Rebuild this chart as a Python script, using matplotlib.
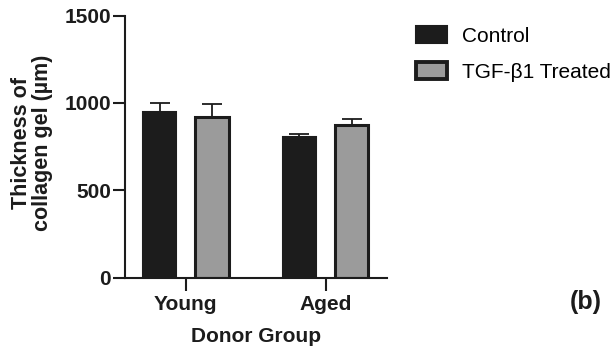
import matplotlib.pyplot as plt
import numpy as np

plt.rcParams['font.family'] = ['Liberation Sans', 'DejaVu Sans']

groups = ['Young', 'Aged']
series = ['Control', 'TGF-\u03b21 Treated']
control = [950, 805]
treated = [922, 872]
control_err = [52, 17]
treated_err = [70, 38]

fig = plt.figure(figsize=(6.13, 3.46), dpi=100)
ax = fig.add_axes([0.204, 0.197, 0.427, 0.758])

x = np.arange(len(groups))
w = 0.24
off = 0.187
lw = 1.5
ink = '#1c1c1c'

ax.bar(x - off, control, w, color=ink, edgecolor=ink, linewidth=lw,
       label=series[0], zorder=2)
ax.bar(x + off, treated, w, color='#9b9b9b', edgecolor=ink, linewidth=2.2,
       label=series[1], zorder=2)
# one-sided (upper) error bars
ax.errorbar(x - off, control, yerr=[np.zeros(2), control_err], fmt='none',
            ecolor=ink, elinewidth=1.3, capsize=7, capthick=1.3, zorder=1)
ax.errorbar(x + off, treated, yerr=[np.zeros(2), treated_err], fmt='none',
            ecolor=ink, elinewidth=1.3, capsize=7, capthick=1.3, zorder=1)

ax.set_xlim(-0.434, 1.438)
ax.set_ylim(0, 1500)
ax.set_yticks([0, 500, 1000, 1500])
ax.set_xticks(x)
ax.set_xticklabels(groups)

for s in ['top', 'right']:
    ax.spines[s].set_visible(False)
for s in ['left', 'bottom']:
    ax.spines[s].set_linewidth(lw)
    ax.spines[s].set_color(ink)
ax.tick_params(axis='y', width=lw, length=9, color=ink, labelsize=15, pad=1)
ax.tick_params(axis='x', width=lw, length=9, color=ink, labelsize=15, pad=3)
for t in ax.get_xticklabels() + ax.get_yticklabels():
    t.set_fontweight('bold')
    t.set_color(ink)

fig.text(32 / 613, 1 - 143 / 346, 'Thickness of\ncollagen gel (\u00b5m)',
         rotation=90, ha='center', va='center', fontsize=15.5,
         fontweight='bold', color=ink, linespacing=1.05)
ax.set_xlabel('Donor Group', fontsize=15, fontweight='bold', color=ink,
              labelpad=10)

leg = fig.legend(loc='upper left', bbox_to_anchor=(416 / 613, 1 - 26 / 346),
                 frameon=False, fontsize=15, borderpad=0, borderaxespad=0,
                 handlelength=1.5, handleheight=0.87, labelspacing=0.8,
                 handletextpad=0.72)
leg.legend_handles[1].set_linewidth(2.8)

fig.text(0.955, 1 - 302 / 346, '(b)', fontsize=18, fontweight='bold',
         ha='center', va='center', color=ink)

fig.savefig('out.png', dpi=100)
